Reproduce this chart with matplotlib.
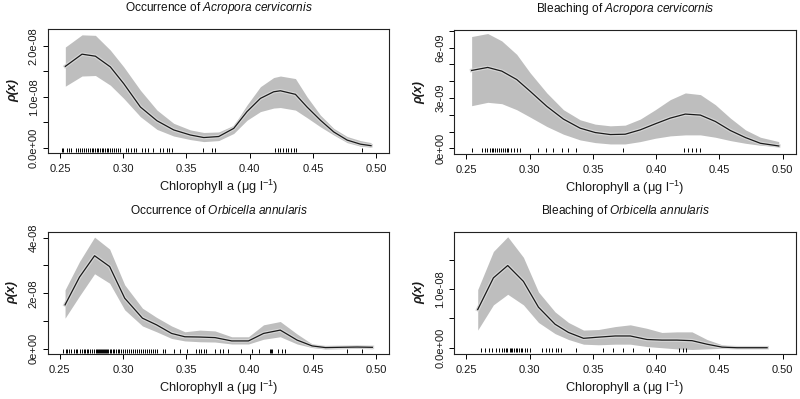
import numpy as np
import matplotlib
matplotlib.use("Agg")
import matplotlib.pyplot as plt

plt.rcParams['font.family'] = ['Liberation Sans', 'DejaVu Sans']
plt.rcParams['mathtext.fontset'] = 'custom'
plt.rcParams['mathtext.rm'] = 'Liberation Sans'
plt.rcParams['mathtext.it'] = 'Liberation Sans:italic'
plt.rcParams['mathtext.default'] = 'regular'

# ---------------- data ----------------
# Panel 1: Occurrence of Acropora cervicornis (units 1e-8)
ac_occ_x = [0.2542, 0.2674, 0.2780, 0.2898, 0.3004, 0.3136, 0.3267, 0.3399, 0.3531, 0.3637,
            0.3755, 0.3874, 0.3979, 0.4085, 0.4190, 0.4243, 0.4362, 0.4454, 0.4560, 0.4665,
            0.4771, 0.4876, 0.4960]
ac_occ_mid = [1.60, 1.84, 1.80, 1.59, 1.26, 0.80, 0.53, 0.35, 0.25, 0.20,
              0.22, 0.38, 0.71, 0.97, 1.10, 1.12, 1.05, 0.80, 0.54, 0.31,
              0.15, 0.07, 0.04]
ac_occ_hi = [1.98, 2.22, 2.21, 1.92, 1.59, 1.13, 0.74, 0.48, 0.35, 0.30,
             0.31, 0.44, 0.84, 1.20, 1.38, 1.41, 1.36, 1.00, 0.64, 0.38,
             0.22, 0.14, 0.10]
ac_occ_lo = [1.21, 1.41, 1.42, 1.23, 0.97, 0.61, 0.36, 0.23, 0.16, 0.12,
             0.14, 0.28, 0.54, 0.71, 0.78, 0.79, 0.74, 0.59, 0.41, 0.25,
             0.10, 0.03, 0.01]
ac_occ_rug = [0.2513, 0.2526, 0.2553, 0.2571, 0.2587, 0.2624, 0.2640, 0.2658, 0.2671, 0.2687,
              0.2703, 0.2719, 0.2735, 0.2751, 0.2764, 0.2777, 0.2790, 0.2803, 0.2816, 0.2830,
              0.2843, 0.2856, 0.2869, 0.2882, 0.2896, 0.2909, 0.2925, 0.2940, 0.2956, 0.2972,
              0.3020, 0.3041, 0.3062, 0.3083, 0.3104, 0.3151, 0.3172, 0.3194, 0.3238, 0.3294,
              0.3318, 0.3344, 0.3362, 0.3383, 0.3634, 0.3700, 0.3726, 0.4201, 0.4222, 0.4243,
              0.4264, 0.4285, 0.4306, 0.4327, 0.4349, 0.4370, 0.4887]

# Panel 2: Bleaching of Acropora cervicornis (units 1e-9)
ac_ble_x = [0.2542, 0.2669, 0.2780, 0.2898, 0.3004, 0.3136, 0.3267, 0.3399, 0.3518, 0.3637,
            0.3755, 0.3874, 0.3993, 0.4111, 0.4230, 0.4349, 0.4467, 0.4586, 0.4705, 0.4823,
            0.4968]
ac_ble_mid = [4.64, 4.82, 4.60, 4.10, 3.40, 2.50, 1.74, 1.20, 0.94, 0.82,
              0.84, 1.10, 1.46, 1.80, 2.04, 1.98, 1.60, 1.06, 0.64, 0.30,
              0.14]
ac_ble_hi = [6.66, 6.84, 6.40, 5.60, 4.50, 3.30, 2.30, 1.70, 1.44, 1.34,
             1.38, 1.74, 2.30, 2.90, 3.30, 3.20, 2.60, 1.80, 1.10, 0.66,
             0.40]
ac_ble_lo = [2.54, 2.74, 2.66, 2.30, 1.86, 1.30, 0.84, 0.50, 0.34, 0.26,
             0.26, 0.40, 0.60, 0.74, 0.80, 0.80, 0.66, 0.46, 0.30, 0.18,
             0.10]
ac_ble_rug = [0.2547, 0.2621, 0.2645, 0.2666, 0.2685, 0.2700, 0.2711, 0.2727, 0.2745, 0.2758,
              0.2777, 0.2790, 0.2806, 0.2819, 0.2832, 0.2851, 0.2877, 0.2903, 0.2925, 0.3070,
              0.3128, 0.3186, 0.3259, 0.3304, 0.3370, 0.3739, 0.4222, 0.4248, 0.4283, 0.4314,
              0.4346]

# Panel 3: Occurrence of Orbicella annularis (units 1e-8)
oa_occ_x = [0.2542, 0.2656, 0.2775, 0.2894, 0.3013, 0.3153, 0.3264, 0.3383, 0.3488, 0.3607,
            0.3726, 0.3858, 0.3990, 0.4109, 0.4241, 0.4374, 0.4493, 0.4598, 0.4717, 0.4849,
            0.4968]
oa_occ_mid = [1.58, 2.58, 3.35, 2.96, 1.82, 1.10, 0.86, 0.55, 0.43, 0.42,
              0.40, 0.28, 0.28, 0.55, 0.67, 0.31, 0.10, 0.04, 0.05, 0.06,
              0.05]
oa_occ_hi = [2.12, 3.14, 4.02, 3.59, 2.30, 1.46, 1.13, 0.82, 0.61, 0.67,
             0.64, 0.43, 0.43, 0.86, 0.98, 0.53, 0.17, 0.07, 0.11, 0.12,
             0.11]
oa_occ_lo = [1.10, 1.90, 2.70, 2.36, 1.40, 0.82, 0.61, 0.37, 0.28, 0.25,
             0.24, 0.17, 0.17, 0.34, 0.43, 0.17, 0.04, -0.01, 0.00, 0.01,
             0.00]
oa_occ_rug = [0.2529, 0.2548, 0.2561, 0.2577, 0.2592, 0.2614, 0.2627, 0.2640, 0.2661, 0.2672,
              0.2688, 0.2698, 0.2714, 0.2725, 0.2740, 0.2751, 0.2772, 0.2785, 0.2793, 0.2801,
              0.2809, 0.2817, 0.2825, 0.2833, 0.2841, 0.2849, 0.2857, 0.2865, 0.2873, 0.2883,
              0.2894, 0.2904, 0.2918, 0.2931, 0.2944, 0.2957, 0.2970, 0.2984, 0.2997, 0.3015,
              0.3031, 0.3047, 0.3063, 0.3079, 0.3095, 0.3110, 0.3126, 0.3142, 0.3158, 0.3174,
              0.3190, 0.3206, 0.3221, 0.3237, 0.3253, 0.3269, 0.3314, 0.3332, 0.3401, 0.3446,
              0.3507, 0.3578, 0.3597, 0.3618, 0.3636, 0.3658, 0.3729, 0.3766, 0.3792, 0.3829,
              0.3930, 0.4020, 0.4072, 0.4160, 0.4168, 0.4175, 0.4226, 0.4252, 0.4279, 0.4767,
              0.4886]

# Panel 4: Bleaching of Orbicella annularis (units 1e-8)
oa_ble_x = [0.2590, 0.2714, 0.2827, 0.2951, 0.3070, 0.3201, 0.3307, 0.3426, 0.3544, 0.3676,
            0.3795, 0.3927, 0.4045, 0.4164, 0.4283, 0.4401, 0.4520, 0.4639, 0.4757, 0.4876]
oa_ble_mid = [0.65, 1.19, 1.40, 1.13, 0.69, 0.40, 0.26, 0.16, 0.18, 0.20,
              0.20, 0.14, 0.13, 0.13, 0.12, 0.06, 0.01, 0.00, 0.00, 0.00]
oa_ble_hi = [0.99, 1.64, 1.89, 1.54, 0.95, 0.61, 0.43, 0.30, 0.31, 0.36,
             0.39, 0.33, 0.26, 0.27, 0.27, 0.14, 0.05, 0.01, 0.00, 0.00]
oa_ble_lo = [0.30, 0.73, 0.91, 0.73, 0.43, 0.24, 0.14, 0.06, 0.05, 0.06,
             0.06, 0.02, 0.00, -0.02, -0.03, -0.02, -0.01, 0.00, 0.00, 0.00]
oa_ble_rug = [0.2613, 0.2648, 0.2679, 0.2706, 0.2732, 0.2758, 0.2785, 0.2798, 0.2811, 0.2824,
              0.2843, 0.2851, 0.2864, 0.2877, 0.2890, 0.2903, 0.2917, 0.2930, 0.2943, 0.2964,
              0.2983, 0.3001, 0.3096, 0.3128, 0.3154, 0.3180, 0.3207, 0.3228, 0.3246, 0.3370,
              0.3576, 0.3660, 0.3734, 0.3819, 0.3945, 0.4182, 0.4209, 0.4235]

x_ticks = [0.25, 0.30, 0.35, 0.40, 0.45, 0.50]
x_ticklabels = ["0.25", "0.30", "0.35", "0.40", "0.45", "0.50"]

panels = [
    dict(title=r"Occurrence of $\it{Acropora\ cervicornis}$", scale=1e-8,
         x=ac_occ_x, mid=ac_occ_mid, hi=ac_occ_hi, lo=ac_occ_lo, rug=ac_occ_rug,
         yticks=[0, 0.5, 1.0, 1.5, 2.0], ylabels=["0.0e+00", "", "1.0e-08", "", "2.0e-08"],
         ylim=(-0.104, 2.335), rect=(48, 389, 29, 153)),
    dict(title=r"Bleaching of $\it{Acropora\ cervicornis}$", scale=1e-9,
         x=ac_ble_x, mid=ac_ble_mid, hi=ac_ble_hi, lo=ac_ble_lo, rug=ac_ble_rug,
         yticks=[0, 1, 2, 3, 4, 5, 6, 7], ylabels=["0e+00", "", "", "3e-09", "", "", "6e-09", ""],
         ylim=(-0.357, 7.05), rect=(454.3, 795.7, 30, 154.3)),
    dict(title=r"Occurrence of $\it{Orbicella\ annularis}$", scale=1e-8,
         x=oa_occ_x, mid=oa_occ_mid, hi=oa_occ_hi, lo=oa_occ_lo, rug=oa_occ_rug,
         yticks=[0, 1, 2, 3, 4], ylabels=["0e+00", "", "2e-08", "", "4e-08"],
         ylim=(-0.191, 4.216), rect=(47.7, 389.3, 231.7, 354)),
    dict(title=r"Bleaching of $\it{Orbicella\ annularis}$", scale=1e-8,
         x=oa_ble_x, mid=oa_ble_mid, hi=oa_ble_hi, lo=oa_ble_lo, rug=oa_ble_rug,
         yticks=[0, 0.5, 1.0, 1.5], ylabels=["0.0e+00", "", "1.0e-08", ""],
         ylim=(-0.107, 1.976), rect=(454.3, 795.7, 231.7, 354)),
]

W, H = 800, 399
fig = plt.figure(figsize=(W / 100, H / 100), dpi=100)
fig.patch.set_facecolor("white")

for p in panels:
    L, R, T, B = p["rect"]
    ax = fig.add_axes([L / W, 1 - B / H, (R - L) / W, (B - T) / H])
    s = p["scale"]
    x = np.array(p["x"])
    ax.fill_between(x, np.array(p["lo"]) * s, np.array(p["hi"]) * s,
                    color="#bebebe", linewidth=0)
    ax.plot(x, np.array(p["mid"]) * s, color="#d6d6d6", lw=2.6, solid_joinstyle="round")
    ax.plot(x, np.array(p["mid"]) * s, color="#1a1a1a", lw=0.9)
    rug = np.array(p["rug"])
    ax.plot(rug, np.zeros_like(rug), linestyle="none", marker=3, markersize=2.6,
            markeredgewidth=0.7, color="black", clip_on=False)
    ax.set_xlim(0.2405, 0.5102)
    ax.set_ylim(p["ylim"][0] * s, p["ylim"][1] * s)
    ax.set_xticks(x_ticks)
    ax.set_xticklabels(x_ticklabels)
    ax.set_yticks(np.array(p["yticks"]) * s)
    ax.set_yticklabels(p["ylabels"], rotation=90, va="center")
    ax.tick_params(axis="both", direction="out", length=3.4, width=0.7, labelsize=8,
                   color="black", labelcolor="#1a1a1a")
    ax.tick_params(axis="x", pad=4.3)
    ax.tick_params(axis="y", pad=3.2)
    for sp in ax.spines.values():
        sp.set_linewidth(0.8)
        sp.set_color("#222222")
    cx = (L + R) / 2
    fig.text(cx / W, 1 - (T - 21) / H, p["title"], ha="center", va="center", fontsize=8.6,
             color="#111111")
    fig.text(cx / W, 1 - (B + 34) / H, "Chlorophyll a (μg l$^{-1}$)", ha="center", va="center",
             fontsize=9.2, color="#1a1a1a")
    fig.text((L - 35) / W, 1 - ((T + B) / 2) / H, "ρ(x)", ha="center", va="center",
             rotation=90, fontsize=9, fontweight="bold", fontstyle="italic", color="#1a1a1a")

fig.savefig("out.png", dpi=100, facecolor="white")
